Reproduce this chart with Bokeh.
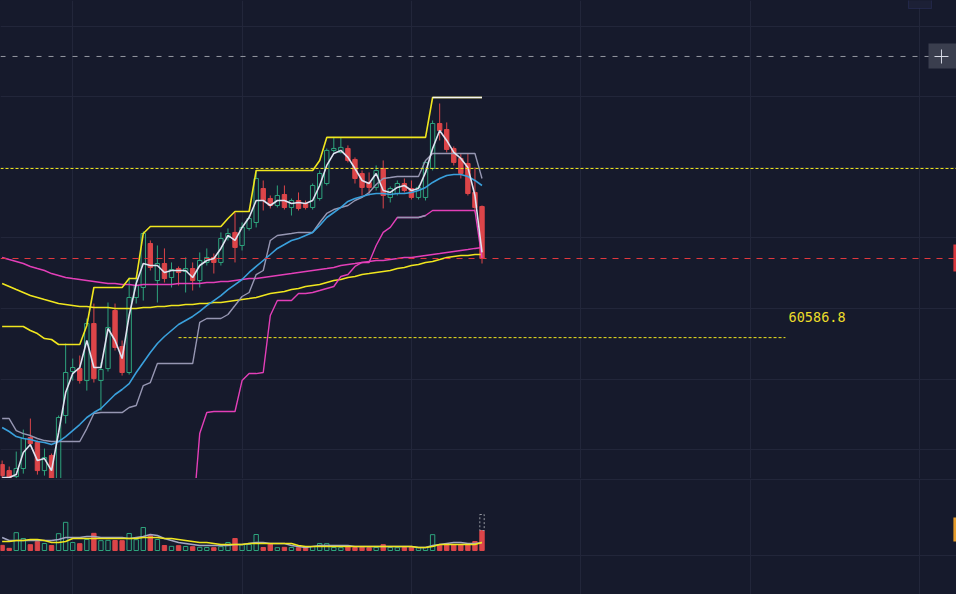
import numpy as np
from bokeh.plotting import figure
from bokeh.models import Range1d, FixedTicker, Span, BoxAnnotation, Label
from bokeh.layouts import column
from bokeh.embed import file_html
from bokeh.resources import INLINE

# ---------------- data (4h candles, BTC/USDT) ----------------
open_ = [58786, 58701, 58616, 58730, 59170, 59099, 58701, 58914, 58588, 59482,
         60106, 60148, 59978, 60787, 59978, 60148, 60972, 60461, 60092, 61156,
         61298, 61922, 61397, 61638, 61440, 61567, 61525, 61567, 61397, 61653,
         61724, 61653, 62008, 62079, 61894, 62135, 62220, 62702, 62560, 62461,
         62617, 62433, 62532, 62489, 62433, 62560, 62773, 63242, 63214, 63270,
         63114, 62915, 62788, 62717, 62986, 62575, 62631, 62773, 62702, 62575,
         62575, 62986, 63624, 63539, 63270, 63128, 63057, 62646, 62447]
high = [58843, 58758, 58971, 59283, 59439, 59127, 59013, 58942, 59482, 60503,
        60290, 60333, 60858, 61070, 60234, 61085, 61070, 60546, 61440, 61425,
        62093, 61965, 61894, 61852, 61653, 61596, 61724, 61653, 61795, 61852,
        61780, 62079, 62135, 62362, 62220, 62319, 62958, 62816, 62603, 62745,
        62745, 62560, 62646, 62532, 62773, 62958, 63270, 63427, 63427, 63313,
        63143, 62958, 62930, 63029, 63100, 62731, 62816, 62844, 62816, 62745,
        63100, 63667, 63908, 63639, 63299, 63199, 63199, 63001, 62461]
low = [58588, 58559, 58573, 58658, 59042, 58644, 58630, 58531, 58531, 59368,
       59978, 59935, 59836, 59950, 59553, 60106, 60404, 60049, 60063, 61070,
       61113, 61539, 61085, 61369, 61298, 61326, 61227, 61255, 61298, 61610,
       61496, 61610, 61965, 61653, 61823, 62107, 62150, 62390, 62419, 62433,
       62404, 62319, 62390, 62404, 62404, 62532, 62745, 63214, 63199, 63072,
       62773, 62603, 62603, 62674, 62419, 62504, 62603, 62646, 62546, 62546,
       62532, 62958, 63384, 63214, 63029, 62844, 62603, 62362, 61638]
close = [58630, 58602, 58730, 59156, 59084, 58701, 58886, 58588, 59454, 60092,
         60163, 59978, 60787, 60006, 60134, 60731, 60447, 60092, 61156, 61326,
         62064, 61582, 61638, 61425, 61553, 61511, 61567, 61397, 61681, 61724,
         61653, 61993, 62064, 61866, 62150, 62276, 62844, 62532, 62461, 62603,
         62433, 62532, 62419, 62433, 62745, 62915, 63242, 63270, 63285, 63100,
         62844, 62717, 62717, 62958, 62603, 62702, 62773, 62674, 62575, 62717,
         63072, 63624, 63525, 63256, 63072, 62915, 62631, 62433, 61709]
volume = [310, 130, 1070, 720, 350, 530, 420, 300, 1010, 1690,
          480, 410, 660, 1030, 590, 610, 600, 590, 1020, 650,
          1380, 890, 660, 300, 250, 290, 240, 230, 190, 180,
          170, 230, 480, 720, 350, 360, 960, 180, 410, 170,
          190, 180, 170, 180, 240, 420, 410, 180, 170, 230,
          180, 190, 170, 180, 350, 180, 170, 180, 190, 170,
          180, 950, 360, 370, 350, 360, 360, 540, 1200]
volume_projected_last = 2160

# indicators
highest_high = [60745] * 4 + [60688, 60645, 60574, 60560] + [60489] * 4 + [60759] \
    + [61298] * 5 + [61425] * 2 + [62064] + [62163] * 11 + [62276] + [62376] * 3 \
    + [62958] * 9 + [63100] + [63427] * 15 + [63993] * 8
fast_line = [58602, 58602, 58644, 58957, 59070, 58843, 58871, 58701, 59241, 59808,
             60077, 60163, 60546, 60163, 60163, 60716, 60546, 60290, 60901, 61355,
             61638, 61610, 61610, 61511, 61539, 61539, 61539, 61440, 61610, 61681,
             61709, 61852, 62036, 61965, 62150, 62291, 62532, 62532, 62461, 62532,
             62532, 62489, 62504, 62489, 62532, 62745, 63029, 63199, 63242, 63143,
             62986, 62816, 62773, 62915, 62674, 62646, 62717, 62745, 62674, 62702,
             62930, 63270, 63525, 63384, 63214, 63128, 63001, 62603, 61795]
ema_mid = [59312, 59255, 59184, 59156, 59141, 59113, 59099, 59070, 59113, 59184,
           59269, 59354, 59454, 59524, 59581, 59681, 59780, 59851, 59935, 60092,
           60234, 60375, 60503, 60603, 60688, 60773, 60830, 60887, 60958, 61042,
           61113, 61184, 61269, 61340, 61411, 61511, 61596, 61681, 61766, 61852,
           61908, 61965, 61993, 62036, 62079, 62178, 62291, 62362, 62433, 62518,
           62560, 62589, 62617, 62631, 62631, 62617, 62631, 62631, 62646, 62674,
           62717, 62788, 62844, 62887, 62901, 62901, 62873, 62816, 62745]
base_line = [59439, 59439, 59269, 59226, 59198, 59156, 59127, 59113, 59113, 59113,
             59113, 59113, 59297, 59510, 59524, 59524, 59524, 59524, 59596, 59624,
             59907, 59950, 60219, 60219, 60219, 60219, 60219, 60219, 60802, 60858,
             60858, 60858, 60915, 61042, 61170, 61227, 61482, 61539, 61965, 62036,
             62050, 62064, 62079, 62079, 62079, 62220, 62348, 62404, 62433, 62461,
             62532, 62575, 62646, 62759, 62844, 62858, 62873, 62873, 62873, 62873,
             63100, 63199, 63199, 63199, 63199, 63199, 63199, 63199, 62844]
ma_pink = [61724, 61695, 61667, 61638, 61596, 61567, 61539, 61496, 61468, 61440,
           61425, 61411, 61397, 61383, 61369, 61355, 61355, 61340, 61340, 61326,
           61340, 61340, 61340, 61340, 61340, 61355, 61355, 61355, 61355, 61369,
           61369, 61383, 61383, 61397, 61411, 61425, 61425, 61440, 61454, 61468,
           61482, 61496, 61511, 61525, 61539, 61553, 61567, 61582, 61610, 61624,
           61638, 61653, 61667, 61681, 61681, 61695, 61709, 61724, 61724, 61738,
           61752, 61766, 61780, 61795, 61809, 61823, 61837, 61852, 61866]
ma_yellow = [61355, 61312, 61269, 61227, 61184, 61156, 61127, 61099, 61070, 61056,
             61042, 61028, 61028, 61014, 61014, 61014, 61000, 61000, 61000, 61000,
             61014, 61014, 61028, 61028, 61042, 61042, 61056, 61056, 61070, 61070,
             61085, 61085, 61099, 61113, 61127, 61141, 61156, 61184, 61212, 61227,
             61241, 61269, 61284, 61312, 61326, 61340, 61369, 61397, 61411, 61440,
             61454, 61482, 61496, 61511, 61525, 61539, 61567, 61582, 61610, 61624,
             61653, 61667, 61695, 61724, 61738, 61752, 61752, 61766, 61766]
nan = float("nan")
trail_stop = [nan] * 27 + [57992, 59226, 59525, 59539, 59539, 59539, 59539, 59978,
              60077, 60077, 60092, 60901, 61113, 61113, 61113, 61212, 61212, 61227,
              61255, 61284, 61312, 61454, 61482, 61596, 61653, 61653, 61894, 62079,
              62150, 62291, 62291, 62291, 62291, 62319] + [62390] * 7 + [61709]
vol_ma_yellow = [540, 540, 600, 600, 660, 660, 600, 480, 480, 540] + [720] * 10 \
    + [780] * 3 + [720, 720, 660, 600, 540, 480, 480, 420] + [360] * 4 + [420] * 7 \
    + [300] + [240] * 16 + [180, 180, 240] + [360] * 6 + [480]
vol_ma_gray = [780] + [600] * 7 + [660] + [780] * 3 + [840, 840] + [780] * 4 \
    + [720, 780, 840, 960, 900, 720, 600, 480, 420, 360] + [300] * 5 \
    + [360, 360, 420, 480, 480] + [420] * 3 + [300, 240, 180, 240] + [300] * 5 \
    + [240] * 9 + [180, 180, 300, 360, 420, 480, 480, 420, 420, 480]

time_grid = [10, 34, 58, 82, 106, 130]          # every 24 candles (4 days)
price_grid = [59000, 60000, 61000, 62000, 63000, 64000, 65000]
alert_level = 64575
resistance_level = 62986
target_level = 60586.8
target_from, target_to = 25, 111

# ---------------- style ----------------
BG = "#161a2c"
GRID = "#22263a"
UP = "#2ea37d"
DOWN = "#dc4549"
YEL = "#f0e61e"
WHITE = "#dfe2f0"
BLUE = "#3aa0dc"
LAV = "#9696b2"
PINK = "#e33fb8"

n = len(close)
idx = np.arange(n)
o = np.array(open_, float); c = np.array(close, float)
h = np.array(high, float); l = np.array(low, float)
up = c >= o
dn = ~up
XR = Range1d(-0.232, 135.24)


def make_fig(height, yr):
    f = figure(width=956, height=height, x_range=XR, y_range=yr,
               output_backend="svg", toolbar_location=None,
               x_axis_location=None, y_axis_location=None,
               background_fill_color=BG, border_fill_color=BG,
               min_border=0, min_border_left=0, min_border_right=0,
               min_border_top=0, min_border_bottom=0)
    f.outline_line_color = None
    f.xgrid.ticker = FixedTicker(ticks=time_grid)
    f.grid.grid_line_color = GRID
    f.grid.grid_line_width = 1
    return f


p = make_fig(478, Range1d(58588.7, 65368.7))
p.ygrid.ticker = FixedTicker(ticks=price_grid)

# level lines
p.add_layout(Span(location=alert_level, dimension="width", line_color="#9598a1",
                  line_dash="5 7", line_width=1))
p.add_layout(Span(location=resistance_level, dimension="width", line_color=YEL,
                  line_dash="3 2", line_width=1))
p.add_layout(Span(location=close[-1], dimension="width", line_color="#e0383e",
                  line_dash="6 6", line_width=1))
p.line([target_from, target_to], [target_level, target_level], line_color=YEL,
       line_dash="3 2", line_width=1)
p.add_layout(Label(x=target_to + 0.45, y=target_level, text=f"{target_level:.1f}",
                   y_offset=21, text_font="DejaVu Sans Mono", text_font_size="13.5px",
                   text_color="#ecdc2a", text_baseline="alphabetic", text_align="left"))

# candles
W = 0.62
p.segment(idx[dn], h[dn], idx[dn], l[dn], line_color=DOWN, line_width=1)
p.vbar(x=idx[dn], width=W, top=o[dn], bottom=c[dn], fill_color=DOWN, line_color=DOWN)
top_b = np.maximum(o, c); bot_b = np.minimum(o, c)
p.segment(idx[up], h[up], idx[up], top_b[up], line_color=UP, line_width=1)
p.segment(idx[up], bot_b[up], idx[up], l[up], line_color=UP, line_width=1)
p.vbar(x=idx[up], width=W, top=c[up], bottom=o[up], fill_alpha=0, line_color=UP,
       line_width=1)

# indicator lines
p.line(idx, ma_yellow, line_color=YEL, line_width=1.6)
p.line(idx, ma_pink, line_color=PINK, line_width=1.4)
p.line(idx, trail_stop, line_color=PINK, line_width=1.4)
p.line(idx[56:61], trail_stop[56:61], line_color=LAV, line_width=1.4)
p.line(idx, base_line, line_color=LAV, line_width=1.4)
p.line(idx, ema_mid, line_color=BLUE, line_width=1.6)
p.line(idx, highest_high, line_color=YEL, line_width=1.6)
p.line(idx[61:], highest_high[61:], line_color="#f4f4f4", line_width=1.6)
p.line(idx, fast_line, line_color=WHITE, line_width=1.6)

# right-edge UI bits
p.add_layout(BoxAnnotation(left=134.8, right=136, top=61908, bottom=61525,
                           fill_color="#d9383e", fill_alpha=1, line_alpha=0))
p.add_layout(BoxAnnotation(left=131.27, right=136, top=64759, bottom=64404,
                           fill_color="#3a3e4e", fill_alpha=1, line_alpha=0))
p.add_layout(BoxAnnotation(left=132.12, right=134.1, top=64581, bottom=64567,
                           fill_color="#d8dbe6", fill_alpha=1, line_alpha=0))
p.add_layout(BoxAnnotation(left=133.04, right=133.18, top=64674, bottom=64475,
                           fill_color="#d8dbe6", fill_alpha=1, line_alpha=0))
p.add_layout(BoxAnnotation(left=128.44, right=131.7, top=65400, bottom=65255,
                           fill_color="#1c2036", fill_alpha=1, line_color="#3d4382",
                           line_width=1))

# ---------------- volume pane ----------------
v = np.array(volume, float)
pv = make_fig(116, Range1d(-2640, 4320))
pv.ygrid.ticker = FixedTicker(ticks=[-300, 4290])
pv.vbar(x=idx[dn], width=W, top=v[dn], bottom=0, fill_color=DOWN, line_color=DOWN)
pv.vbar(x=idx[up], width=W, top=v[up], bottom=0, fill_alpha=0, line_color=UP)
pv.vbar(x=[idx[-1]], width=W, top=[volume_projected_last], bottom=[volume[-1]],
        fill_alpha=0, line_color="#9598a1", line_dash="2 2", line_width=1)
pv.line(idx, vol_ma_gray, line_color="#a4a7c4", line_width=1.5)
pv.line(idx, vol_ma_yellow, line_color=YEL, line_width=1.5)
pv.add_layout(BoxAnnotation(left=134.8, right=136, top=1980, bottom=540,
                            fill_color="#e39a2a", fill_alpha=1, line_alpha=0))

layout = column(p, pv, spacing=0)
html = file_html(layout, INLINE)
html = html.replace("</head>",
                    "<style>html,body{margin:0;padding:0;background:%s;}</style></head>" % BG, 1)
open("out.html", "w").write(html)
